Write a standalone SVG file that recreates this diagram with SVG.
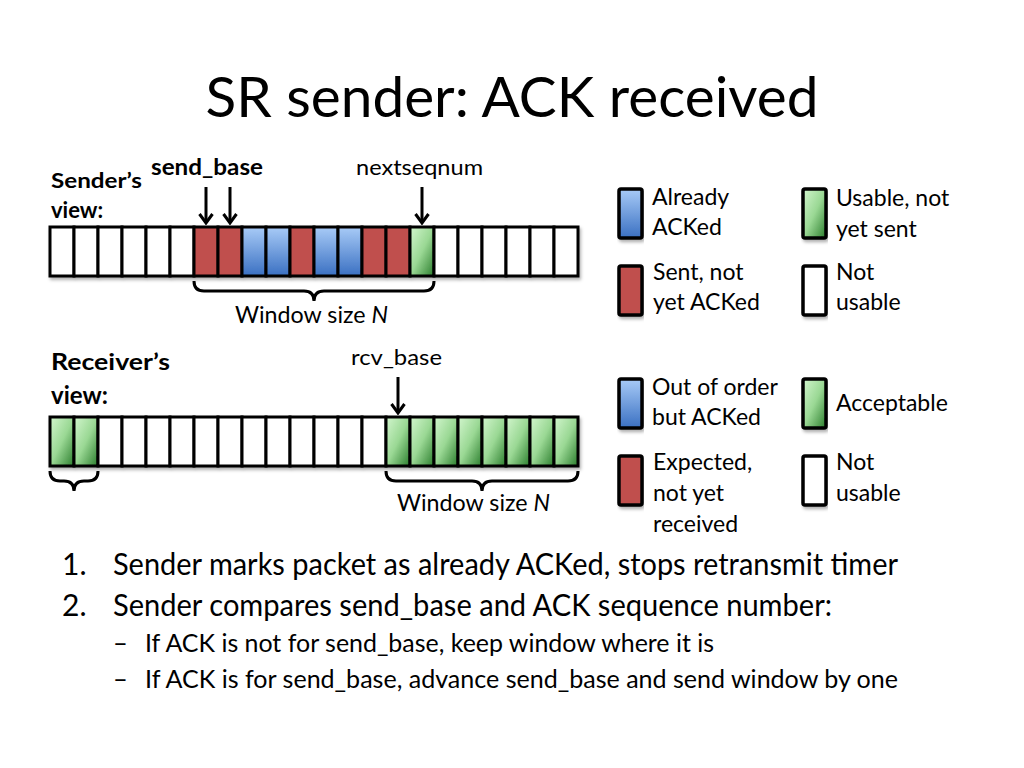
<svg xmlns="http://www.w3.org/2000/svg" width="1024" height="768" viewBox="0 0 1024 768">
<defs>
<linearGradient id="gBlue" x1="0" y1="0" x2="0" y2="1"><stop offset="0" stop-color="#a8cbf7"/><stop offset="1" stop-color="#3a70c2"/></linearGradient>
<linearGradient id="gGreen" x1="0" y1="0" x2="1" y2="1"><stop offset="0" stop-color="#d3f6ce"/><stop offset="0.5" stop-color="#9ad894"/><stop offset="1" stop-color="#2a7d2c"/></linearGradient>
<filter id="sh" x="-5%" y="-10%" width="110%" height="130%"><feDropShadow dx="1.5" dy="2.5" stdDeviation="1.5" flood-color="#000" flood-opacity="0.3"/></filter>
<marker id="arr" viewBox="0 0 14 16" refX="12" refY="8" markerWidth="14" markerHeight="16" markerUnits="userSpaceOnUse" orient="auto">
<path d="M3,1.5 L12,8 L3,14.5" fill="none" stroke="#000" stroke-width="3" stroke-linejoin="miter"/>
</marker>
<style>
text{font-family:Lato,"Open Sans","Liberation Sans",sans-serif;fill:#000}
.cell{stroke:#000;stroke-width:3}
.w{fill:#fff}.r{fill:#c0504d}.b{fill:url(#gBlue)}.g{fill:url(#gGreen)}
.leg{stroke:#000;stroke-width:3.5}
.lbl{font-size:23px}
.bold{font-weight:bold}
.ln{stroke:#000;stroke-width:3;fill:none}
.br{stroke:#000;stroke-width:3;fill:none}
.body{font-size:30px}
.sub{font-size:25.5px}
</style>
</defs>
<rect width="1024" height="768" fill="#fff"/>

<g id="title"><text x="512" y="117" font-size="56" text-anchor="middle" textLength="613" lengthAdjust="spacingAndGlyphs">SR sender: ACK received</text></g>

<g id="sender-label"><text class="bold" x="51" y="188" font-size="21" textLength="91" lengthAdjust="spacingAndGlyphs">Sender’s</text><text class="bold" x="51" y="218" font-size="22">view:</text></g>
<g id="send-base-label"><text class="bold" x="151" y="175" font-size="22" textLength="112" lengthAdjust="spacingAndGlyphs">send_base</text></g>
<g id="nextseqnum-label"><text x="356" y="175" font-size="22" textLength="127" lengthAdjust="spacingAndGlyphs">nextseqnum</text></g>

<g id="sender-row" filter="url(#sh)">
<rect class="cell w" x="50" y="227" width="24" height="49"/>
<rect class="cell w" x="74" y="227" width="24" height="49"/>
<rect class="cell w" x="98" y="227" width="24" height="49"/>
<rect class="cell w" x="122" y="227" width="24" height="49"/>
<rect class="cell w" x="146" y="227" width="24" height="49"/>
<rect class="cell w" x="170" y="227" width="24" height="49"/>
<rect class="cell r" x="194" y="227" width="24" height="49"/>
<rect class="cell r" x="218" y="227" width="24" height="49"/>
<rect class="cell b" x="242" y="227" width="24" height="49"/>
<rect class="cell b" x="266" y="227" width="24" height="49"/>
<rect class="cell r" x="290" y="227" width="24" height="49"/>
<rect class="cell b" x="314" y="227" width="24" height="49"/>
<rect class="cell b" x="338" y="227" width="24" height="49"/>
<rect class="cell r" x="362" y="227" width="24" height="49"/>
<rect class="cell r" x="386" y="227" width="24" height="49"/>
<rect class="cell g" x="410" y="227" width="24" height="49"/>
<rect class="cell w" x="434" y="227" width="24" height="49"/>
<rect class="cell w" x="458" y="227" width="24" height="49"/>
<rect class="cell w" x="482" y="227" width="24" height="49"/>
<rect class="cell w" x="506" y="227" width="24" height="49"/>
<rect class="cell w" x="530" y="227" width="24" height="49"/>
<rect class="cell w" x="554" y="227" width="24" height="49"/>
</g>
<g id="sender-window-label"><text x="235" y="323" font-size="23" textLength="153" lengthAdjust="spacingAndGlyphs">Window size <tspan font-style="italic">N</tspan></text></g>

<g id="receiver-label"><text class="bold" x="51" y="370" font-size="23" textLength="119" lengthAdjust="spacingAndGlyphs">Receiver’s</text><text class="bold" x="51" y="404" font-size="24">view:</text></g>
<g id="rcv-base-label"><text x="351" y="365" font-size="22" textLength="91" lengthAdjust="spacingAndGlyphs">rcv_base</text></g>

<g id="receiver-row" filter="url(#sh)">
<rect class="cell g" x="50" y="417" width="24" height="49"/>
<rect class="cell g" x="74" y="417" width="24" height="49"/>
<rect class="cell w" x="98" y="417" width="24" height="49"/>
<rect class="cell w" x="122" y="417" width="24" height="49"/>
<rect class="cell w" x="146" y="417" width="24" height="49"/>
<rect class="cell w" x="170" y="417" width="24" height="49"/>
<rect class="cell w" x="194" y="417" width="24" height="49"/>
<rect class="cell w" x="218" y="417" width="24" height="49"/>
<rect class="cell w" x="242" y="417" width="24" height="49"/>
<rect class="cell w" x="266" y="417" width="24" height="49"/>
<rect class="cell w" x="290" y="417" width="24" height="49"/>
<rect class="cell w" x="314" y="417" width="24" height="49"/>
<rect class="cell w" x="338" y="417" width="24" height="49"/>
<rect class="cell w" x="362" y="417" width="24" height="49"/>
<rect class="cell g" x="386" y="417" width="24" height="49"/>
<rect class="cell g" x="410" y="417" width="24" height="49"/>
<rect class="cell g" x="434" y="417" width="24" height="49"/>
<rect class="cell g" x="458" y="417" width="24" height="49"/>
<rect class="cell g" x="482" y="417" width="24" height="49"/>
<rect class="cell g" x="506" y="417" width="24" height="49"/>
<rect class="cell g" x="530" y="417" width="24" height="49"/>
<rect class="cell g" x="554" y="417" width="24" height="49"/>
</g>
<g id="receiver-window-label"><text x="397" y="511" font-size="23" textLength="153" lengthAdjust="spacingAndGlyphs">Window size <tspan font-style="italic">N</tspan></text></g>

<g id="connectors">
<line class="ln" x1="206" y1="187" x2="206" y2="223" marker-end="url(#arr)"/>
<line class="ln" x1="230" y1="187" x2="230" y2="223" marker-end="url(#arr)"/>
<line class="ln" x1="422" y1="187" x2="422" y2="223" marker-end="url(#arr)"/>
<line class="ln" x1="398" y1="377" x2="398" y2="413" marker-end="url(#arr)"/>
<path class="br" d="M194,281 Q194,291 204,291 L304,291 Q314,291 314,301 Q314,291 324,291 L424,291 Q434,291 434,281"/>
<path class="br" d="M50,471 Q50,481 60,481 L64,481 Q74,481 74,491 Q74,481 84,481 L88,481 Q98,481 98,471"/>
<path class="br" d="M386,471 Q386,481 396,481 L472,481 Q482,481 482,491 Q482,481 492,481 L568,481 Q578,481 578,471"/>
</g>

<g id="legend-already-acked"><rect class="leg b" x="619" y="189" width="23" height="49" rx="2" filter="url(#sh)"/><text class="lbl" x="652" y="205">Already</text><text class="lbl" x="652" y="235">ACKed</text></g>
<g id="legend-usable"><rect class="leg g" x="803" y="189" width="23" height="49" rx="2" filter="url(#sh)"/><text class="lbl" x="836" y="206">Usable, not</text><text class="lbl" x="836" y="237">yet sent</text></g>
<g id="legend-sent"><rect class="leg r" x="619" y="266" width="23" height="49" rx="2" filter="url(#sh)"/><text class="lbl" x="653" y="280">Sent, not</text><text class="lbl" x="653" y="310">yet ACKed</text></g>
<g id="legend-not-usable-s"><rect class="leg w" x="803" y="266" width="23" height="49" rx="2" filter="url(#sh)"/><text class="lbl" x="836" y="280">Not</text><text class="lbl" x="836" y="310">usable</text></g>

<g id="legend-out-of-order"><rect class="leg b" x="619" y="379" width="23" height="49" rx="2" filter="url(#sh)"/><text class="lbl" x="652" y="395">Out of order</text><text class="lbl" x="652" y="425">but ACKed</text></g>
<g id="legend-acceptable"><rect class="leg g" x="803" y="379" width="23" height="49" rx="2" filter="url(#sh)"/><text class="lbl" x="836" y="411">Acceptable</text></g>
<g id="legend-expected"><rect class="leg r" x="619" y="456" width="23" height="49" rx="2" filter="url(#sh)"/><text class="lbl" x="653" y="470">Expected,</text><text class="lbl" x="653" y="501">not yet</text><text class="lbl" x="653" y="532">received</text></g>
<g id="legend-not-usable-r"><rect class="leg w" x="803" y="456" width="23" height="49" rx="2" filter="url(#sh)"/><text class="lbl" x="836" y="470">Not</text><text class="lbl" x="836" y="501">usable</text></g>

<g id="bullets">
<text class="body" x="62" y="575">1.</text>
<text class="body" x="113" y="575" textLength="785" lengthAdjust="spacingAndGlyphs">Sender marks packet as already ACKed, stops retransmit timer</text>
<text class="body" x="62" y="616">2.</text>
<text class="body" x="113" y="616" textLength="719" lengthAdjust="spacingAndGlyphs">Sender compares send_base and ACK sequence number:</text>
<text class="sub" x="113" y="652">–</text>
<text class="sub" x="145" y="652" textLength="569" lengthAdjust="spacingAndGlyphs">If ACK is not for send_base, keep window where it is</text>
<text class="sub" x="113" y="688">–</text>
<text class="sub" x="145" y="688" textLength="753" lengthAdjust="spacingAndGlyphs">If ACK is for send_base, advance send_base and send window by one</text>
</g>
</svg>
